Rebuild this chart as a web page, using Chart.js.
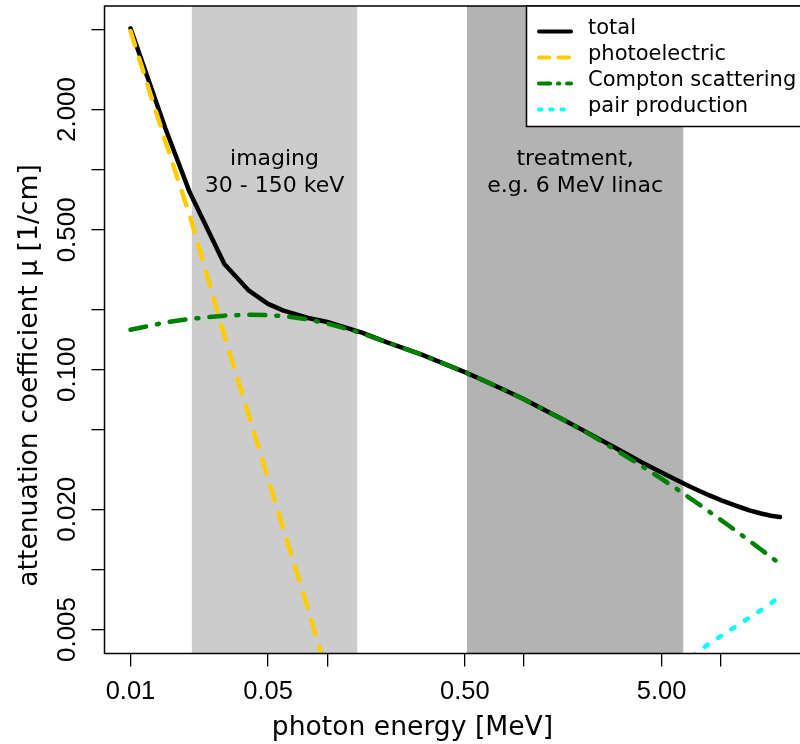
<!DOCTYPE html>
<html>
<head>
<meta charset="utf-8">
<script src="https://cdn.jsdelivr.net/npm/chart.js@4.4.1/dist/chart.umd.min.js"></script>
<style>
  html, body { margin: 0; padding: 0; background: #fff; overflow: hidden; }
  #wrap { width: 812px; height: 744px; }
</style>
</head>
<body>
<div id="wrap"><canvas id="muChart"></canvas></div>
<script>
// photon energy [MeV]
const energy = [0.01, 0.015, 0.02, 0.03, 0.04, 0.05, 0.06, 0.08, 0.1, 0.15, 0.2, 0.3, 0.4, 0.5,
  0.6, 0.8, 1, 1.25, 1.5, 2, 3, 4, 5, 6, 7, 8, 9, 10, 11, 12, 13, 14, 15, 16, 18, 20];

// attenuation coefficients of water [1/cm]
const muTotal = [5.10, 1.62, 0.77, 0.337, 0.248, 0.213, 0.197, 0.181, 0.173, 0.153, 0.137, 0.119, 0.106, 0.0970,
  0.0896, 0.0787, 0.0710, 0.0633, 0.0577, 0.0496, 0.0399, 0.0342, 0.0305, 0.0279, 0.0259, 0.0244, 0.0232, 0.0222,
  0.02145, 0.02078, 0.02022, 0.01975, 0.01936, 0.01903, 0.01855, 0.0183];
const muPhoto = [4.94, 1.40, 0.59, 0.148, 0.0585, 0.0285, 0.0158, 0.0063, 0.0030, 0.00085, null, null, null, null,
  null, null, null, null, null, null, null, null, null, null, null, null, null, null,
  null, null, null, null, null, null, null, null];
const muCompton = [0.158, 0.172, 0.179, 0.186, 0.188, 0.187, 0.185, 0.178, 0.170, 0.152, 0.137, 0.119, 0.106, 0.0970,
  0.0896, 0.0787, 0.0710, 0.0633, 0.0575, 0.0495, 0.0390, 0.0327, 0.0284, 0.02518, 0.02268, 0.02069, 0.01905, 0.0177,
  0.01653, 0.01553, 0.01465, 0.01388, 0.01319, 0.01257, 0.01152, 0.01065];
const muPair = [null, null, null, null, null, null, null, null, null, null, null, null, null, null,
  null, null, null, 0.000018, 0.000098, 0.00039, 0.00115, 0.0019, 0.0025, 0.0031, 0.0036, 0.0040, 0.00434, 0.00463,
  0.00492, 0.00521, 0.00548, 0.00574, 0.0060, 0.00626, 0.00678, 0.0073];

const xTicks = [0.01, 0.05, 0.1, 0.5, 1, 5, 10];
const xTickLabels = ['0.01', '0.05', '', '0.50', '', '5.00', ''];
const yTicks = [0.005, 0.01, 0.02, 0.05, 0.1, 0.2, 0.5, 1, 2, 5];
const yTickLabels = ['0.005', '', '0.020', '', '0.100', '', '0.500', '', '2.000', ''];

// shaded energy ranges [MeV]
const bandFrom = [0.0205, 0.513];
const bandTo = [0.142, 6.45];
const bandText = [['imaging', '30 - 150 keV'], ['treatment,', 'e.g. 6 MeV linac']];

const series = vals => energy.map((e, i) => ({ x: e, y: vals[i] }));

const TEXT = '"DejaVu Sans", Verdana, sans-serif';
const NUM = '"Liberation Sans", Arial, sans-serif';

const decor = {
  id: 'decor',
  beforeDatasetsDraw(chart) {
    const { ctx, chartArea: a, scales: { x, y } } = chart;
    ctx.save();
    bandFrom.forEach((from, i) => {
      const x0 = x.getPixelForValue(from);
      const x1 = x.getPixelForValue(bandTo[i]);
      ctx.fillStyle = i === 0 ? '#cccccc' : '#b3b3b3';
      ctx.fillRect(x0, a.top, x1 - x0, a.bottom - a.top);
      // caption sits in the log-centre of the band
      const cx = x.getPixelForValue(Math.sqrt(from * bandTo[i]));
      const cy = y.getPixelForValue(1);
      ctx.fillStyle = '#000';
      ctx.font = '22px ' + TEXT;
      ctx.textAlign = 'center';
      ctx.textBaseline = 'alphabetic';
      ctx.fillText(bandText[i][0], cx, cy - 5);
      ctx.fillText(bandText[i][1], cx, cy + 22);
    });
    ctx.restore();
  },
  afterDraw(chart) {
    const { ctx, chartArea: a, scales: { x, y } } = chart;
    ctx.save();

    // frame
    ctx.strokeStyle = '#000';
    ctx.lineWidth = 1.5;
    ctx.strokeRect(a.left, a.top, a.right - a.left, a.bottom - a.top);

    // tick labels
    ctx.fillStyle = '#000';
    ctx.font = '25.5px ' + NUM;
    ctx.textAlign = 'center';
    ctx.textBaseline = 'alphabetic';
    xTicks.forEach((v, i) => {
      if (xTickLabels[i]) ctx.fillText(xTickLabels[i], x.getPixelForValue(v), 699);
    });
    ctx.font = '26px ' + NUM;
    yTicks.forEach((v, i) => {
      if (!yTickLabels[i]) return;
      ctx.save();
      ctx.translate(74.5, y.getPixelForValue(v));
      ctx.rotate(-Math.PI / 2);
      ctx.fillText(yTickLabels[i], 0, 0);
      ctx.restore();
    });

    // axis titles
    ctx.font = '26.6px ' + TEXT;
    ctx.fillText('photon energy [MeV]', 412.5, 735);
    ctx.save();
    ctx.translate(36.5, 375.5);
    ctx.rotate(-Math.PI / 2);
    ctx.fillText('attenuation coefficient \u03bc [1/cm]', 0, 0);
    ctx.restore();

    // legend
    const lx = 526.5, ly = a.top;
    ctx.fillStyle = '#fff';
    ctx.fillRect(lx, ly, 300, 120.5);
    ctx.strokeRect(lx, ly, 300, 120.5);
    ctx.font = '21px ' + TEXT;
    ctx.textAlign = 'left';
    chart.data.datasets.forEach((ds, i) => {
      const rowY = 31.5 + 26 * i;
      ctx.save();
      ctx.strokeStyle = ds.borderColor;
      ctx.lineWidth = 4;
      ctx.lineCap = 'round';
      ctx.setLineDash((ds.borderDash || []).map(d => d * 0.7));
      ctx.beginPath();
      ctx.moveTo(539, rowY);
      ctx.lineTo(571, rowY);
      ctx.stroke();
      ctx.restore();
      ctx.fillStyle = '#000';
      ctx.fillText(ds.label, 588, rowY + 2.7);
    });
    ctx.restore();
  }
};

new Chart(document.getElementById('muChart'), {
  type: 'line',
  data: {
    datasets: [
      { label: 'total', data: series(muTotal), borderColor: '#000000', borderWidth: 4.5, order: 4 },
      { label: 'photoelectric', data: series(muPhoto), borderColor: '#ffcc00', borderWidth: 4.5,
        borderDash: [15, 13], order: 3 },
      { label: 'Compton scattering', data: series(muCompton), borderColor: '#008000', borderWidth: 4.5,
        borderDash: [16, 11, 2, 11], order: 2 },
      { label: 'pair production', data: series(muPair), borderColor: '#00ffff', borderWidth: 4.5,
        borderDash: [3.5, 12.5], order: 1 }
    ]
  },
  options: {
    responsive: true,
    maintainAspectRatio: false,
    animation: false,
    layout: { padding: { top: 6, right: 6, left: 0, bottom: 0 } },
    elements: {
      point: { radius: 0 },
      line: { tension: 0, fill: false, borderCapStyle: 'round', borderJoinStyle: 'round' }
    },
    plugins: { legend: { display: false }, tooltip: { enabled: false } },
    scales: {
      x: {
        type: 'logarithmic',
        min: Math.pow(10, -2.13204),
        max: Math.pow(10, 1.43307),
        bounds: 'data',
        afterBuildTicks: s => { s.ticks = xTicks.map(v => ({ value: v })); },
        afterFit: s => { s.height = 90.5; },
        ticks: { display: false },
        border: { display: false },
        grid: { drawOnChartArea: false, drawTicks: true, tickLength: 13, color: '#000', lineWidth: 1.3 }
      },
      y: {
        type: 'logarithmic',
        min: 0.005 / Math.pow(10, 0.12),
        max: 5 * Math.pow(10, 0.12),
        bounds: 'data',
        afterBuildTicks: s => { s.ticks = yTicks.map(v => ({ value: v })); },
        afterFit: s => { s.width = 104.5; },
        ticks: { display: false },
        border: { display: false },
        grid: { drawOnChartArea: false, drawTicks: true, tickLength: 13, color: '#000', lineWidth: 1.3 }
      }
    }
  },
  plugins: [decor]
});
</script>
</body>
</html>
